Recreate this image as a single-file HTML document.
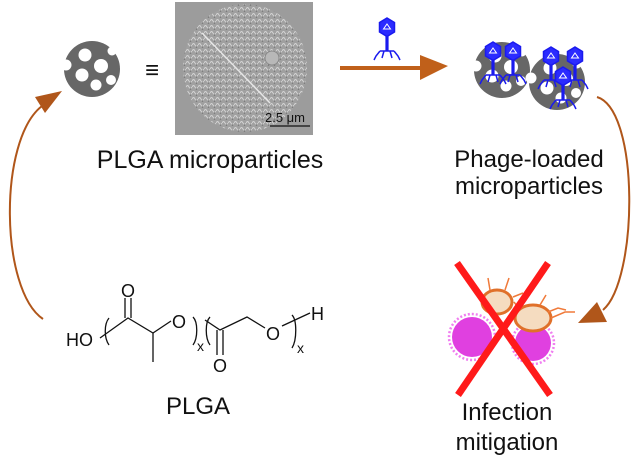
<!DOCTYPE html>
<html><head><meta charset="utf-8"><style>
html,body{margin:0;padding:0;background:#fff;}
svg{display:block;}
text{font-family:"Liberation Sans",Arial,sans-serif;fill:#111;}
</style></head><body>
<svg width="640" height="459" viewBox="0 0 640 459" xmlns="http://www.w3.org/2000/svg">
<defs>
<pattern id="tex" width="6" height="6" patternUnits="userSpaceOnUse">
<rect width="6" height="6" fill="#a0a0a0"/>
<path d="M0,3 Q1.5,0 3,3 T6,3" fill="none" stroke="#d6d6d6" stroke-width="0.9"/>
<circle cx="4.5" cy="5" r="0.8" fill="#707070"/>
</pattern>
<g id="disk">
<circle r="28" fill="#676767"/>
<circle cx="-7" cy="-14" r="6.5" fill="#fff"/>
<circle cx="9" cy="-3" r="7" fill="#fff"/>
<circle cx="-10" cy="6" r="6.5" fill="#fff"/>
<circle cx="4" cy="16" r="5.5" fill="#fff"/>
<circle cx="19" cy="11" r="5" fill="#fff"/>
<circle cx="-26" cy="-4" r="5.5" fill="#fff"/>
<circle cx="20" cy="-18" r="4.5" fill="#fff"/>
</g>
<g id="phage" stroke="#1a1aee" fill="none" stroke-width="1.5">
<polygon points="0,-15 7.5,-10.5 7.5,-1 0,3.5 -7.5,-1 -7.5,-10.5" fill="#2b2bff"/>
<polygon points="0,-9 3.5,-4 -3.5,-4" stroke="#fff" stroke-width="1"/>
<line x1="0" y1="3" x2="0" y2="18" stroke-width="3.2"/>
<path d="M-7,18 H7 M-7,18 L-11,23 L-13,27 M-3,18 L-5,25 M3,18 L5,25 M7,18 L11,23 L13,27"/>
</g>
</defs>

<use href="#disk" x="92" y="69"/>
<text x="152" y="78" font-size="24" text-anchor="middle">≡</text>

<rect x="175" y="2" width="138" height="133" fill="#9c9c9c"/>
<ellipse cx="245" cy="68" rx="62" ry="64" fill="url(#tex)"/>
<line x1="202" y1="33" x2="270" y2="103" stroke="#e6e6e6" stroke-width="1.5"/>
<circle cx="272" cy="58" r="7" fill="#b8b8b8" stroke="#888"/>
<text x="265" y="122" font-size="13">2.5 μm</text>
<line x1="270" y1="126" x2="310" y2="126" stroke="#111" stroke-width="1.2"/>

<line x1="340" y1="68" x2="422" y2="68" stroke="#c0601a" stroke-width="4"/>
<polygon points="420,55 448,66 420,80" fill="#c0601a"/>
<use href="#phage" x="387" y="33"/>

<use href="#disk" x="502" y="70"/>
<use href="#disk" x="557" y="82"/>
<use href="#phage" x="493" y="57"/>
<use href="#phage" x="513" y="57"/>
<use href="#phage" x="551" y="62"/>
<use href="#phage" x="575" y="62"/>
<use href="#phage" x="563" y="82"/>

<text x="210" y="168" font-size="25" text-anchor="middle">PLGA microparticles</text>
<text x="529" y="167" font-size="24" text-anchor="middle">Phage-loaded</text>
<text x="529" y="194" font-size="24" text-anchor="middle">microparticles</text>

<path d="M597,97 C640,110 638,280 603,310" fill="none" stroke="#b0561a" stroke-width="2"/>
<polygon points="578,323 597,302 607,322" fill="#b0561a"/>

<path d="M43,319 C0,290 -2,140 42,106" fill="none" stroke="#b0561a" stroke-width="2"/>
<polygon points="35,97 62,91 45,113" fill="#b0561a"/>

<g stroke="#111" stroke-width="1.3" fill="none">
<path d="M100,338 L128,318 L153,333 L171,321"/>
<path d="M125,318 V298 M131,318 V298"/>
<path d="M153,333 V362"/>
<path d="M109,318 C104,324 104,338 109,345"/>
<path d="M193,317 C198,322 198,338 193,345"/>
<path d="M210,317 C205,322 205,338 210,345"/>
<path d="M205,320 L220,330 L247,317 L265,328"/>
<path d="M217,330 V355 M223,330 V355"/>
<path d="M282,326 L310,313"/>
<path d="M292,315 C297,320 297,340 292,348"/>
</g>
<g font-size="18">
<text x="66" y="346">HO</text>
<text x="128" y="297" text-anchor="middle">O</text>
<text x="179" y="328" text-anchor="middle">O</text>
<text x="197" y="351" font-size="14">x</text>
<text x="220" y="372" text-anchor="middle">O</text>
<text x="273" y="340" text-anchor="middle">O</text>
<text x="297" y="353" font-size="14">x</text>
<text x="311" y="320">H</text>
</g>
<text x="198" y="414" font-size="24" text-anchor="middle">PLGA</text>

<g>
<circle cx="472" cy="337" r="20" fill="#e040e0"/>
<circle cx="533" cy="343" r="18" fill="#e040e0"/>
<g stroke="#f07ef0" stroke-width="2.5" fill="none">
<circle cx="472" cy="337" r="23" stroke-dasharray="2 2"/>
<circle cx="533" cy="343" r="21" stroke-dasharray="2 2"/>
</g>
<ellipse cx="497" cy="302" rx="15" ry="12" fill="#f5dcc0" stroke="#e0702a" stroke-width="3"/>
<ellipse cx="533" cy="318" rx="18" ry="13" fill="#f5dcc0" stroke="#e0702a" stroke-width="3"/>
<path d="M483,296 l-10,-6 M490,290 l-2,-12 M505,290 l4,-12 M513,297 l10,-4 M548,312 l10,-4 l8,2 M551,318 l14,-6 l10,0 M540,305 l6,-10 M520,310 l-6,-8" stroke="#f07a3a" stroke-width="1.5" fill="none"/>
</g>
<g stroke="#ff1a1a" stroke-width="7" stroke-linecap="butt">
<line x1="457" y1="263" x2="550" y2="395"/>
<line x1="548" y1="263" x2="458" y2="395"/>
</g>
<text x="507" y="420" font-size="24" text-anchor="middle">Infection</text>
<text x="507" y="450" font-size="24" text-anchor="middle">mitigation</text>
</svg>
</body></html>
